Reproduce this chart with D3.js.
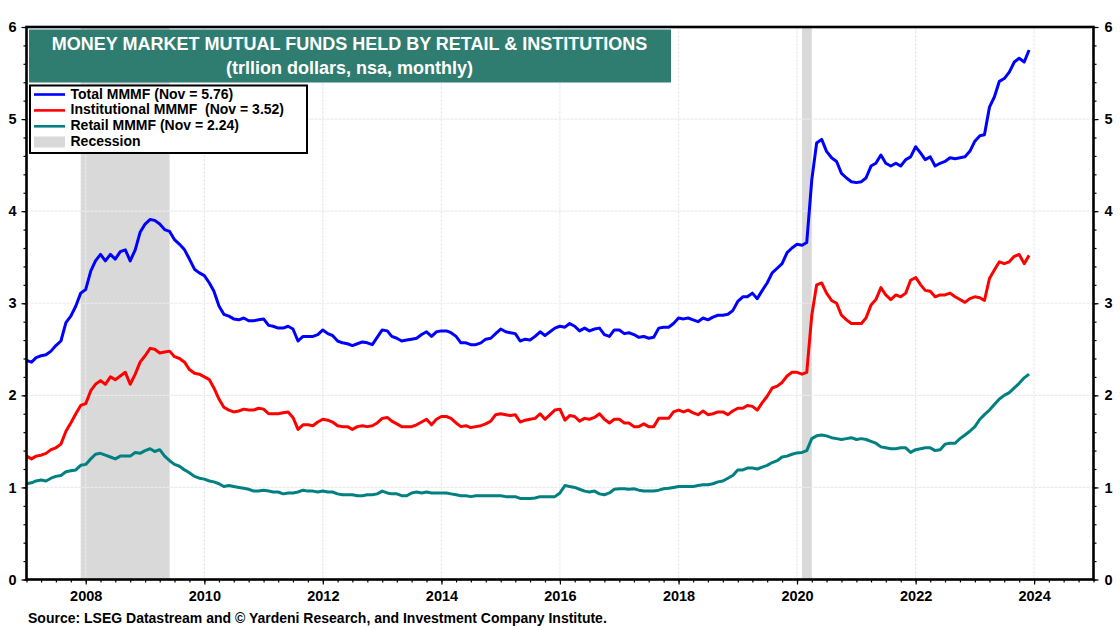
<!DOCTYPE html>
<html>
<head>
<meta charset="utf-8">
<script src="https://cdn.jsdelivr.net/npm/d3@7"></script>
<style>
  html, body { margin: 0; padding: 0; background: #fff; }
  text { font-family: "Liberation Sans", Arial, sans-serif; font-weight: bold; }
</style>
</head>
<body>
<svg id="chart" width="1120" height="630"></svg>
<script>
// monthly readings, Jan 2007 to the last plotted point
var totalValues = [
  2.38,2.36,2.41,2.43,2.44,2.48,2.54,2.59,2.79,2.86,2.97,3.11,
  3.15,3.35,3.46,3.53,3.46,3.53,3.48,3.56,3.58,3.46,3.58,3.77,
  3.86,3.91,3.90,3.86,3.80,3.78,3.69,3.64,3.58,3.48,3.37,3.33,
  3.30,3.22,3.13,2.97,2.88,2.86,2.83,2.82,2.84,2.81,2.81,2.82,
  2.83,2.76,2.75,2.73,2.73,2.75,2.72,2.59,2.64,2.64,2.64,2.66,
  2.71,2.67,2.65,2.59,2.57,2.56,2.54,2.56,2.58,2.57,2.55,2.63,
  2.71,2.70,2.64,2.62,2.59,2.60,2.61,2.62,2.66,2.69,2.64,2.69,
  2.70,2.70,2.68,2.64,2.57,2.57,2.55,2.55,2.57,2.61,2.62,2.67,
  2.72,2.69,2.68,2.67,2.59,2.61,2.60,2.64,2.69,2.65,2.69,2.73,
  2.75,2.74,2.78,2.75,2.70,2.73,2.70,2.72,2.73,2.66,2.64,2.71,
  2.71,2.67,2.68,2.66,2.63,2.64,2.62,2.63,2.73,2.74,2.74,2.78,
  2.84,2.83,2.84,2.82,2.80,2.84,2.82,2.85,2.87,2.87,2.88,2.92,
  3.02,3.07,3.07,3.11,3.05,3.14,3.22,3.33,3.38,3.43,3.55,3.60,
  3.64,3.63,3.66,4.34,4.74,4.78,4.65,4.58,4.54,4.41,4.36,4.32,
  4.31,4.32,4.36,4.49,4.52,4.61,4.52,4.49,4.52,4.49,4.56,4.59,
  4.70,4.63,4.56,4.59,4.49,4.52,4.54,4.58,4.57,4.58,4.59,4.65,
  4.76,4.82,4.83,5.13,5.24,5.41,5.44,5.51,5.62,5.66,5.62,5.75
];
var institutionalValues = [
  1.34,1.31,1.34,1.35,1.37,1.41,1.43,1.47,1.61,1.70,1.80,1.89,
  1.91,2.05,2.12,2.16,2.12,2.20,2.17,2.21,2.25,2.12,2.23,2.36,
  2.43,2.51,2.50,2.46,2.47,2.48,2.42,2.40,2.36,2.28,2.24,2.23,
  2.20,2.17,2.08,1.96,1.87,1.84,1.82,1.83,1.85,1.84,1.84,1.86,
  1.85,1.80,1.80,1.80,1.81,1.82,1.76,1.63,1.68,1.68,1.67,1.71,
  1.74,1.73,1.71,1.67,1.66,1.66,1.63,1.66,1.67,1.66,1.67,1.70,
  1.75,1.76,1.72,1.69,1.66,1.66,1.66,1.68,1.71,1.74,1.68,1.74,
  1.77,1.77,1.75,1.70,1.66,1.67,1.65,1.66,1.67,1.69,1.72,1.79,
  1.80,1.79,1.78,1.79,1.71,1.73,1.74,1.75,1.80,1.74,1.79,1.84,
  1.85,1.73,1.78,1.77,1.72,1.75,1.74,1.76,1.80,1.74,1.70,1.74,
  1.74,1.70,1.70,1.66,1.66,1.69,1.66,1.66,1.75,1.75,1.75,1.82,
  1.84,1.82,1.84,1.81,1.79,1.83,1.79,1.80,1.82,1.82,1.79,1.83,
  1.86,1.86,1.89,1.88,1.84,1.92,1.99,2.08,2.10,2.14,2.21,2.25,
  2.25,2.23,2.25,2.87,3.20,3.22,3.11,3.03,3.00,2.87,2.82,2.78,
  2.78,2.78,2.84,2.98,3.04,3.17,3.09,3.04,3.09,3.07,3.11,3.25,
  3.28,3.20,3.14,3.13,3.07,3.09,3.09,3.11,3.07,3.04,3.01,3.05,
  3.07,3.06,3.03,3.27,3.36,3.45,3.43,3.45,3.51,3.53,3.43,3.52
];
var retailValues = [
  1.04,1.05,1.07,1.08,1.07,1.10,1.12,1.13,1.17,1.18,1.19,1.24,
  1.25,1.31,1.36,1.37,1.35,1.33,1.31,1.34,1.34,1.34,1.38,1.37,
  1.40,1.42,1.39,1.41,1.34,1.29,1.25,1.23,1.19,1.16,1.12,1.10,
  1.09,1.07,1.06,1.04,1.01,1.02,1.01,1.00,0.99,0.98,0.96,0.96,
  0.97,0.96,0.95,0.95,0.93,0.94,0.94,0.95,0.97,0.96,0.96,0.95,
  0.96,0.95,0.95,0.93,0.92,0.92,0.92,0.91,0.91,0.92,0.92,0.93,
  0.96,0.94,0.93,0.93,0.91,0.91,0.94,0.95,0.94,0.95,0.94,0.94,
  0.94,0.94,0.93,0.92,0.91,0.91,0.90,0.91,0.91,0.91,0.91,0.91,
  0.91,0.90,0.90,0.90,0.88,0.88,0.88,0.885,0.90,0.90,0.90,0.90,
  0.94,1.02,1.01,1.00,0.98,0.96,0.95,0.96,0.93,0.92,0.94,0.98,
  0.985,0.985,0.98,0.985,0.97,0.96,0.96,0.96,0.97,0.985,0.99,1.00,
  1.01,1.01,1.01,1.01,1.02,1.03,1.03,1.04,1.06,1.07,1.10,1.13,
  1.19,1.19,1.21,1.21,1.20,1.22,1.24,1.27,1.29,1.33,1.34,1.36,
  1.375,1.38,1.40,1.53,1.56,1.57,1.56,1.54,1.53,1.52,1.53,1.54,
  1.52,1.53,1.52,1.50,1.48,1.44,1.43,1.42,1.42,1.43,1.43,1.38,
  1.41,1.42,1.43,1.43,1.40,1.41,1.47,1.48,1.48,1.53,1.57,1.61,
  1.66,1.74,1.79,1.84,1.90,1.96,2.00,2.03,2.08,2.13,2.19,2.23
];
var recessions = [
  [new Date(2007, 11, 1), new Date(2009, 5, 1)],
  [new Date(2020, 1, 1), new Date(2020, 3, 1)]
];
var yTicks = [0, 1, 2, 3, 4, 5, 6];
var xLabels = [2008, 2010, 2012, 2014, 2016, 2018, 2020, 2022, 2024];
var titleLines = ["MONEY MARKET MUTUAL FUNDS HELD BY RETAIL & INSTITUTIONS", "(trllion dollars, nsa, monthly)"];
var legendLabels = ["Total MMMF (Nov = 5.76)", "Institutional MMMF  (Nov = 3.52)", "Retail MMMF (Nov = 2.24)", "Recession"];
var sourceText = "Source: LSEG Datastream and © Yardeni Research, and Investment Company Institute.";

var blue = "#0000ff", red = "#ff0000", teal = "#008080", grey = "#d9d9d9", grid = "#ebebeb";

var months = totalValues.map(function (d, i) { return new Date(2007, i, 1); });

var plot = {left: 26.5, right: 1093.5, top: 27, bottom: 579.5};

var x = d3.scaleTime()
    .domain([new Date(2007, 0, 1), new Date(2025, 0, 1)])
    .range([plot.left, plot.right]);
var y = d3.scaleLinear()
    .domain([0, 6])
    .range([plot.bottom, plot.top]);

var svg = d3.select("#chart");

// recession bands go under everything
svg.selectAll(".recession").data(recessions).enter().append("rect")
    .attr("class", "recession")
    .attr("x", function (d) { return x(d[0]); })
    .attr("width", function (d) { return x(d[1]) - x(d[0]); })
    .attr("y", plot.top)
    .attr("height", plot.bottom - plot.top)
    .attr("fill", grey);

// grid
svg.selectAll(".gridY").data(yTicks.slice(1, 6)).enter().append("line")
    .attr("class", "gridY")
    .attr("x1", plot.left).attr("x2", plot.right)
    .attr("y1", function (d) { return y(d); }).attr("y2", function (d) { return y(d); })
    .attr("stroke", grid).attr("stroke-width", 1.2).attr("stroke-dasharray", "3 1");
svg.selectAll(".gridX").data(xLabels).enter().append("line")
    .attr("class", "gridX")
    .attr("x1", function (d) { return x(new Date(d, 0, 1)); })
    .attr("x2", function (d) { return x(new Date(d, 0, 1)); })
    .attr("y1", plot.top).attr("y2", plot.bottom)
    .attr("stroke", grid).attr("stroke-width", 1.2).attr("stroke-dasharray", "3 1");

// series
var line = d3.line()
    .x(function (d, i) { return x(months[i]); })
    .y(function (d) { return y(d); });

[[totalValues, blue], [institutionalValues, red], [retailValues, teal]].forEach(function (s) {
    svg.append("path")
        .attr("d", line(s[0]))
        .attr("fill", "none")
        .attr("stroke", s[1])
        .attr("stroke-width", 3)
        .attr("stroke-linejoin", "round");
});

// axes
var minorY = d3.range(0, 6.01, 0.2);
var leftMinor = d3.axisLeft(y).tickValues(minorY).tickSize(3).tickFormat("");
var rightMinor = d3.axisRight(y).tickValues(minorY).tickSize(3).tickFormat("");
var leftAxis = d3.axisLeft(y).tickValues(yTicks).tickSize(5).tickPadding(5).tickFormat(d3.format("d"));
var rightAxis = d3.axisRight(y).tickValues(yTicks).tickSize(5).tickPadding(6).tickFormat(d3.format("d"));

var quarters = d3.timeMonth.range(new Date(2007, 0, 1), new Date(2025, 0, 2), 3);
var bottomMinor = d3.axisBottom(x).tickValues(quarters).tickSize(3).tickFormat("");
var bottomMajor = d3.axisBottom(x)
    .tickValues(xLabels.map(function (d) { return new Date(d, 0, 1); }))
    .tickSize(5).tickPadding(6).tickFormat(d3.timeFormat("%Y"));

function drawAxis(axis, tx, ty) {
    var g = svg.append("g").attr("transform", "translate(" + tx + "," + ty + ")").call(axis);
    g.select(".domain").remove();
    g.selectAll("line").attr("stroke", "#000").attr("stroke-width", 1.2);
    g.selectAll("text").attr("fill", "#000").attr("font-size", 14.5);
    return g;
}
drawAxis(leftMinor, plot.left, 0);
drawAxis(rightMinor, plot.right, 0);
drawAxis(leftAxis, plot.left, 0);
drawAxis(rightAxis, plot.right, 0);
drawAxis(bottomMinor, 0, plot.bottom);
drawAxis(bottomMajor, 0, plot.bottom);

svg.append("rect")
    .attr("x", plot.left).attr("y", plot.top)
    .attr("width", plot.right - plot.left).attr("height", plot.bottom - plot.top)
    .attr("fill", "none").attr("stroke", "#000").attr("stroke-width", 2.6);

// title banner
svg.append("rect")
    .attr("x", 29).attr("y", 29.5).attr("width", 642).attr("height", 53)
    .attr("fill", "#2f7d70");
svg.selectAll(".titleText").data(titleLines).enter().append("text")
    .attr("class", "titleText")
    .attr("x", 349.5)
    .attr("y", function (d, i) { return 49.5 + i * 24.5; })
    .attr("text-anchor", "middle")
    .attr("font-size", 18)
    .attr("fill", "#fff")
    .text(function (d) { return d; });

// legend
var legend = svg.append("g");
legend.append("rect")
    .attr("x", 30).attr("y", 85.5).attr("width", 277).attr("height", 67.5)
    .attr("fill", "#fff").attr("stroke", "#000").attr("stroke-width", 2);
var legendColors = [blue, red, teal];
legend.selectAll(".legendLine").data(legendColors).enter().append("line")
    .attr("class", "legendLine")
    .attr("x1", 34).attr("x2", 65)
    .attr("y1", function (d, i) { return 94.5 + i * 15.9; })
    .attr("y2", function (d, i) { return 94.5 + i * 15.9; })
    .attr("stroke", function (d) { return d; })
    .attr("stroke-width", 2.6);
legend.append("rect")
    .attr("x", 34).attr("y", 136.5).attr("width", 31).attr("height", 11)
    .attr("fill", grey);
legend.selectAll(".legendText").data(legendLabels).enter().append("text")
    .attr("class", "legendText")
    .attr("x", 70.5)
    .attr("y", function (d, i) { return 98.5 + i * 15.9; })
    .attr("font-size", 14)
    .attr("fill", "#000")
    .attr("xml:space", "preserve")
    .text(function (d) { return d; });

svg.append("text")
    .attr("x", 28).attr("y", 623)
    .attr("font-size", 14)
    .attr("fill", "#000")
    .text(sourceText);
</script>
</body>
</html>
